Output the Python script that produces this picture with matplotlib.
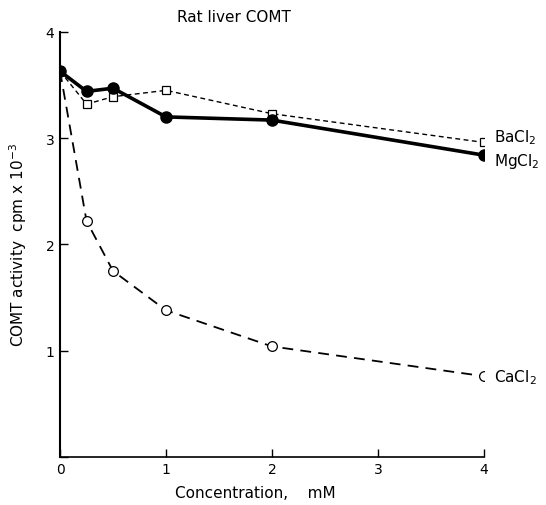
import numpy as np
import matplotlib
matplotlib.use('Agg')
import matplotlib.pyplot as plt

# concentration (mM) and COMT activity (cpm x 10^-3)
conc = [0, 0.25, 0.5, 1, 2, 4]
ca_activity = [3.63, 2.22, 1.75, 1.38, 1.04, 0.76]
mg_activity = [3.63, 3.44, 3.47, 3.20, 3.17, 2.84]
ba_activity = [3.63, 3.32, 3.39, 3.45, 3.23, 2.96]

plt.rcParams['font.family'] = ['DejaVu Sans']

fig = plt.figure(figsize=(5.46, 5.06), dpi=100)
ax = fig.add_axes([0.110, 0.095, 0.776, 0.840])

ax.plot(conc, ba_activity, color='black', lw=1.0, ls=(0, (3.5, 2.5)),
        marker='s', ms=6, mfc='white', mec='black', mew=0.9, zorder=3)
ax.plot(conc, mg_activity, color='black', lw=2.6, ls='-',
        marker='o', ms=8, mfc='black', mec='black', zorder=4)
ax.plot(conc, ca_activity, color='black', lw=1.3, ls=(0, (6, 4)),
        marker='o', ms=7, mfc='white', mec='black', mew=0.9, zorder=3)

# series labels at the right end
ax.text(4.1, ba_activity[-1] + 0.05, 'BaCl$_2$', fontsize=11, va='center', clip_on=False)
ax.text(4.1, mg_activity[-1] - 0.05, 'MgCl$_2$', fontsize=11, va='center', clip_on=False)
ax.text(4.1, ca_activity[-1], 'CaCl$_2$', fontsize=11, va='center', clip_on=False)

ax.set_xlim(0, 4)
ax.set_ylim(0, 4)
ax.set_xticks([0, 1, 2, 3, 4])
ax.set_yticks([0, 1, 2, 3, 4])
ax.set_yticklabels(['', '1', '2', '3', '4'])
ax.tick_params(direction='in', length=6, width=1, labelsize=10, pad=4)
ax.spines['top'].set_visible(False)
ax.spines['right'].set_visible(False)
ax.spines['left'].set_linewidth(1.5)
ax.spines['bottom'].set_linewidth(1.2)

ax.set_xlabel('Concentration,    mM', fontsize=11)
ax.xaxis.set_label_coords(0.46, -0.065)
ax.set_ylabel('COMT activity  cpm x 10$^{-3}$', fontsize=11, labelpad=12)
ax.set_title('Rat liver COMT', fontsize=11, pad=8, x=0.41)

fig.savefig('out.png', dpi=100)
